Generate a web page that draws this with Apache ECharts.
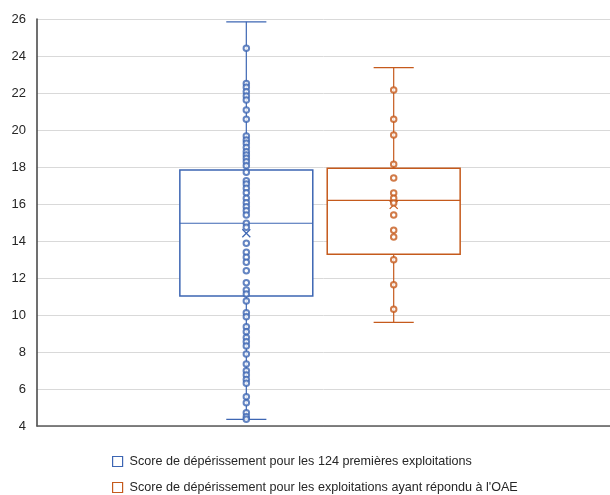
<!DOCTYPE html>
<html>
<head>
<meta charset="utf-8">
<script src="https://cdn.jsdelivr.net/npm/echarts@6/dist/echarts.min.js"></script>
<style>
  html, body { margin: 0; padding: 0; background: #fff; }
  #chart { width: 610px; height: 495px; }
</style>
</head>
<body>
<div id="chart"></div>
<script>
// Series names shown in the legend
const seriesNames = [
  "Score de dépérissement pour les 124 premières exploitations",
  "Score de dépérissement pour les exploitations ayant répondu à l'OAE"
];

// Box statistics per series: [min, q1, median, q3, max]
const boxFirst124 = [4.36, 11.03, 14.96, 17.84, 25.85];
const boxOAE = [9.6, 13.28, 16.2, 17.93, 23.37];

// Means (drawn as X markers)
const meanFirst124 = 14.42;
const meanOAE = 15.95;

// Individual scores
const pointsFirst124 = [
  24.42, 22.52, 22.31, 22.07, 21.84, 21.62, 21.08, 20.58,
  19.68, 19.46, 19.28, 19.06, 18.83, 18.65, 18.47, 18.29, 18.07,
  17.71, 17.26, 17.08, 16.85, 16.61, 16.31, 16.07, 15.85, 15.64, 15.41,
  14.96, 14.74, 13.88, 13.39, 13.12, 12.85, 12.39, 11.75, 11.35, 11.14,
  10.76, 10.12, 9.91, 9.37, 9.10, 8.79, 8.56, 8.32, 7.89, 7.35,
  6.99, 6.76, 6.52, 6.31, 5.58, 5.26, 4.72, 4.50, 4.36
];
const pointsOAE = [
  22.16, 20.58, 19.73, 18.15, 17.41, 16.59, 16.31, 16.05,
  15.41, 14.58, 14.22, 12.99, 11.64, 10.31
];

// Y axis
const yMin = 4, yMax = 26, yStep = 2;

// Layout along the hidden horizontal scale (0..1)
const groupCenters = [0.3653, 0.6225];
const boxHalf = 0.116;
const capHalf = 0.035;

const colors = ['#3d66b3', '#c55a1c'];

function boxRenderer(color) {
  return function (params, api) {
    const cx = api.value(0);
    const vmin = api.value(1), q1 = api.value(2), med = api.value(3),
          q3 = api.value(4), vmax = api.value(5), mean = api.value(6);
    const pL = api.coord([cx - boxHalf, q3]);
    const pR = api.coord([cx + boxHalf, q1]);
    const pC = (v) => api.coord([cx, v]);
    const lineStyle = { stroke: color, lineWidth: 1.2, fill: null };
    const children = [];
    // whiskers
    children.push({ type: 'line', shape: { x1: pC(q3)[0], y1: pC(q3)[1], x2: pC(vmax)[0], y2: pC(vmax)[1] }, style: lineStyle });
    children.push({ type: 'line', shape: { x1: pC(q1)[0], y1: pC(q1)[1], x2: pC(vmin)[0], y2: pC(vmin)[1] }, style: lineStyle });
    // caps
    [vmin, vmax].forEach(v => {
      const a = api.coord([cx - capHalf, v]), b = api.coord([cx + capHalf, v]);
      children.push({ type: 'line', shape: { x1: a[0], y1: a[1], x2: b[0], y2: b[1] }, style: lineStyle });
    });
    // box
    children.push({ type: 'rect', shape: { x: pL[0], y: pL[1], width: pR[0] - pL[0], height: pR[1] - pL[1] },
      style: { stroke: color, lineWidth: 1.5, fill: '#fff' } });
    // median
    const m1 = api.coord([cx - boxHalf, med]), m2 = api.coord([cx + boxHalf, med]);
    children.push({ type: 'line', shape: { x1: m1[0], y1: m1[1], x2: m2[0], y2: m2[1] }, style: { stroke: color, lineWidth: 1.2 } });
    // mean marker
    const mc = pC(mean), s = 4;
    children.push({ type: 'line', shape: { x1: mc[0] - s, y1: mc[1] - s, x2: mc[0] + s, y2: mc[1] + s }, style: { stroke: color, lineWidth: 1.2 }, z2: 10 });
    children.push({ type: 'line', shape: { x1: mc[0] - s, y1: mc[1] + s, x2: mc[0] + s, y2: mc[1] - s }, style: { stroke: color, lineWidth: 1.2 }, z2: 10 });
    return { type: 'group', children };
  };
}

const boxes = [boxFirst124, boxOAE];
const means = [meanFirst124, meanOAE];
const points = [pointsFirst124, pointsOAE];

const series = [];
boxes.forEach((b, i) => {
  series.push({
    name: seriesNames[i],
    type: 'custom',
    renderItem: boxRenderer(colors[i]),
    itemStyle: { color: colors[i] },
    encode: { x: 0, y: [1, 2, 3, 4, 5] },
    data: [[groupCenters[i], ...b, means[i]]],
    z: 2,
    silent: true
  });
});
points.forEach((p, i) => {
  series.push({
    name: seriesNames[i],
    type: 'scatter',
    symbol: 'emptyCircle',
    symbolSize: 5.5,
    itemStyle: { color: colors[i], borderColor: colors[i], borderWidth: 0.9 },
    data: p.map(v => [groupCenters[i], v]),
    z: 3,
    silent: true
  });
});

// One legend block per row
const legendTops = [455, 481];
const legends = seriesNames.map((n, i) => ({
  orient: 'vertical',
  left: 112, top: legendTops[i],
  padding: 0,
  itemWidth: 10, itemHeight: 10,
  selectedMode: false,
  textStyle: { color: '#262626', fontSize: 12.6, fontFamily: 'Liberation Sans', padding: [0, 0, 0, 2] },
  data: [{ name: n, icon: 'rect', itemStyle: { color: '#fff', borderColor: colors[i], borderWidth: 1.2 } }]
}));

const chart = echarts.init(document.getElementById('chart'), null, { renderer: 'canvas' });
chart.setOption({
  animation: false,
  backgroundColor: '#fff',
  grid: { left: 37, right: 0, top: 19, bottom: 69 },
  xAxis: {
    type: 'value', min: 0, max: 1,
    axisLine: { show: true, lineStyle: { color: '#595959', width: 1.5 } },
    axisTick: { show: false }, axisLabel: { show: false }, splitLine: { show: false }
  },
  yAxis: {
    type: 'value', min: yMin, max: yMax, interval: yStep,
    axisLine: { show: true, lineStyle: { color: '#404040', width: 1.5 } },
    axisTick: { show: false },
    axisLabel: { color: '#262626', fontSize: 13, fontFamily: 'Liberation Sans', margin: 11 },
    splitLine: { show: true, lineStyle: { color: '#d9d9d9', width: 1 } }
  },
  legend: legends,
  series
});
</script>
</body>
</html>
